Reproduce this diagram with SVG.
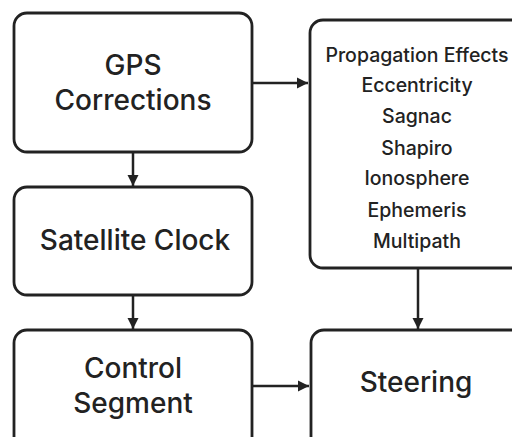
<svg xmlns="http://www.w3.org/2000/svg" width="512" height="437" viewBox="0 0 512 437">
<style>
.box{fill:#fff;stroke:#222;stroke-width:2.8}
.lbl{font-family:Inter,"Liberation Sans",sans-serif;font-weight:500;fill:#222;text-anchor:middle}
.big{font-size:28px}
.small{font-size:19.5px}
.edge{stroke:#222;stroke-width:2.5;fill:none;marker-end:url(#ah)}
</style>
<defs>
<marker id="ah" markerWidth="12" markerHeight="12" refX="11" refY="6" orient="auto" markerUnits="userSpaceOnUse">
<path d="M0,0.5 L11,6 L0,11.5 z" fill="#222"/>
</marker>
</defs>
<rect width="512" height="437" fill="#fff"/>
<g id="gps">
<rect class="box" x="14" y="13" width="238" height="139" rx="13"/>
<text class="lbl big" x="133" y="75">GPS</text>
<text class="lbl big" x="133" y="110">Corrections</text>
</g>
<g id="satclock">
<rect class="box" x="14" y="187" width="238" height="108" rx="13"/>
<text class="lbl big" x="135" y="250">Satellite Clock</text>
</g>
<g id="control">
<rect class="box" x="14" y="330" width="238" height="120" rx="13"/>
<text class="lbl big" x="133" y="378">Control</text>
<text class="lbl big" x="133" y="413">Segment</text>
</g>
<g id="propagation">
<rect class="box" x="310" y="20" width="230" height="248" rx="13"/>
<text class="lbl small" x="417" y="62">Propagation Effects</text>
<text class="lbl small" x="417" y="92">Eccentricity</text>
<text class="lbl small" x="417" y="123">Sagnac</text>
<text class="lbl small" x="417" y="155">Shapiro</text>
<text class="lbl small" x="417" y="185">Ionosphere</text>
<text class="lbl small" x="417" y="217">Ephemeris</text>
<text class="lbl small" x="417" y="248">Multipath</text>
</g>
<g id="steering">
<rect class="box" x="311" y="330" width="230" height="120" rx="13"/>
<text class="lbl big" x="416" y="392">Steering</text>
</g>
<g id="connectors">
<line class="edge" x1="133" y1="152" x2="133" y2="186"/>
<line class="edge" x1="133" y1="295" x2="133" y2="329"/>
<line class="edge" x1="252" y1="83" x2="308" y2="83"/>
<line class="edge" x1="418" y1="268" x2="418" y2="329"/>
<line class="edge" x1="252" y1="386" x2="309" y2="386"/>
</g>
</svg>
